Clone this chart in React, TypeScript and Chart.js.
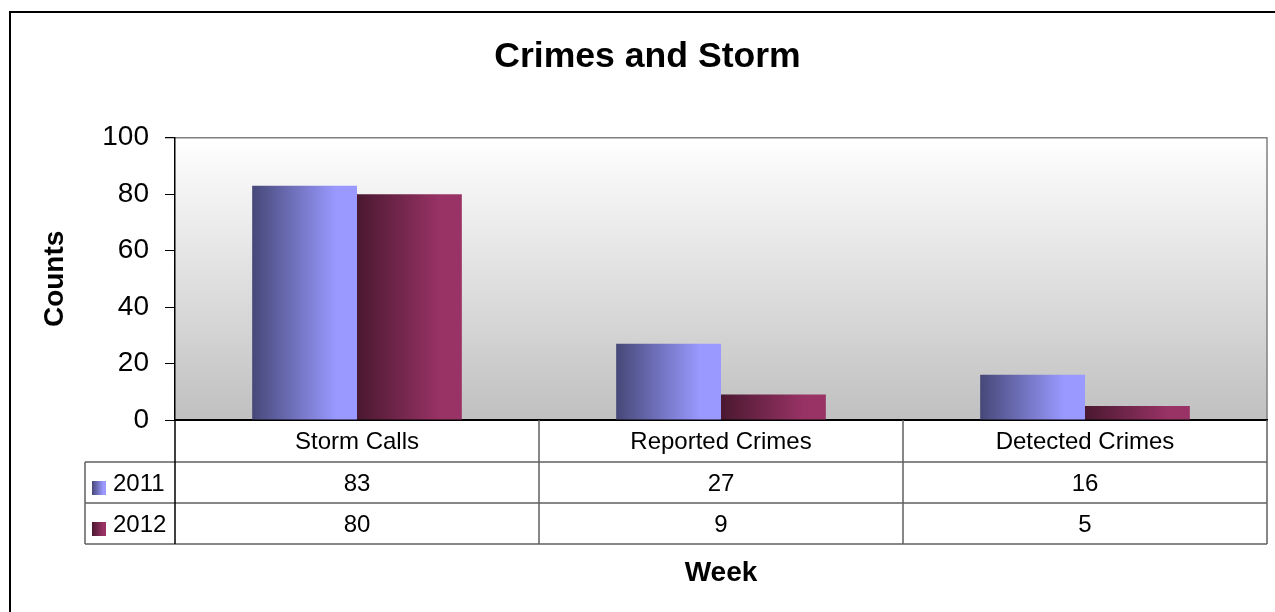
import React, { useEffect, useRef } from "react";
import { Chart, registerables } from "chart.js";

Chart.register(...registerables);

const categories = ["Storm Calls", "Reported Crimes", "Detected Crimes"];
const seriesNames = ["2011", "2012"];
const values2011 = [83, 27, 16];
const values2012 = [80, 9, 5];
const yTicks = [0, 20, 40, 60, 80, 100];

const FONT = "'Liberation Sans', Arial, sans-serif";
const CAT_PCT = 0.576;
const palettes: string[][] = [
  ["#464878", "#9999ff"],
  ["#4a1830", "#993366"],
];

function hGrad(ctx: CanvasRenderingContext2D, x0: number, x1: number, pal: string[]) {
  const g = ctx.createLinearGradient(x0, 0, x1, 0);
  g.addColorStop(0, pal[0]);
  g.addColorStop(0.8, pal[1]);
  g.addColorStop(1, pal[1]);
  return g;
}

function barColor(c: any) {
  const chart = c.chart;
  const xs = chart.scales.x;
  const pal = palettes[c.datasetIndex] || palettes[0];
  if (!xs || !chart.chartArea || c.dataIndex === undefined) return pal[1];
  const cat = xs.width / categories.length;
  const bw = (cat * CAT_PCT) / 2;
  const center = xs.getPixelForValue(c.dataIndex);
  const x0 = center - bw + c.datasetIndex * bw;
  return hGrad(chart.ctx, x0, x0 + bw, pal);
}

const framePlugin = {
  id: "frame",
  beforeDraw(chart: any) {
    const { ctx, chartArea: a } = chart;
    ctx.save();
    ctx.strokeStyle = "#000";
    ctx.lineWidth = 2;
    ctx.strokeRect(10, 12, 2000, 2000);
    const g = ctx.createLinearGradient(0, a.top, 0, a.bottom);
    g.addColorStop(0, "#ffffff");
    g.addColorStop(1, "#c0c0c0");
    ctx.fillStyle = g;
    ctx.fillRect(a.left, a.top, a.right - a.left, a.bottom - a.top);
    ctx.strokeStyle = "#808080";
    ctx.lineWidth = 1.5;
    ctx.beginPath();
    ctx.moveTo(a.left - 10, a.top);
    ctx.lineTo(a.right, a.top);
    ctx.lineTo(a.right, a.bottom);
    ctx.stroke();
    ctx.restore();
  },
  afterDraw(chart: any) {
    const { ctx, chartArea: a } = chart;
    const xs = chart.scales.x;
    const rows = [values2011, values2012];
    const r0 = a.bottom + 42;
    const rowH = 41;
    const tableBottom = r0 + rowH * rows.length;
    const legendLeft = 85;
    const cat = xs.width / categories.length;
    ctx.save();
    ctx.strokeStyle = "#606060";
    ctx.lineWidth = 1.5;
    ctx.beginPath();
    for (let r = 0; r <= rows.length; r++) {
      const y = r0 + r * rowH;
      ctx.moveTo(legendLeft, y);
      ctx.lineTo(a.right, y);
    }
    for (let i = 1; i < categories.length; i++) {
      const x = xs.left + i * cat;
      ctx.moveTo(x, a.bottom);
      ctx.lineTo(x, tableBottom);
    }
    ctx.moveTo(a.right, a.bottom);
    ctx.lineTo(a.right, tableBottom);
    ctx.moveTo(legendLeft, r0);
    ctx.lineTo(legendLeft, tableBottom);
    ctx.stroke();
    ctx.strokeStyle = "#000";
    ctx.lineWidth = 1.5;
    ctx.beginPath();
    ctx.moveTo(a.left, a.bottom);
    ctx.lineTo(a.left, tableBottom);
    ctx.stroke();

    ctx.fillStyle = "#000";
    ctx.font = `24px ${FONT}`;
    ctx.textBaseline = "middle";
    rows.forEach((vals, r) => {
      const cy = r0 + r * rowH + rowH / 2 + 2;
      ctx.textAlign = "center";
      vals.forEach((v, i) => {
        ctx.fillText(String(v), xs.getPixelForValue(i), cy);
      });
      const ky = r0 + r * rowH + 19;
      ctx.fillStyle = hGrad(ctx, 92, 106, palettes[r]);
      ctx.fillRect(92, ky, 14, 14);
      ctx.fillStyle = "#000";
      ctx.textAlign = "left";
      ctx.fillText(seriesNames[r], 113, cy);
    });
    ctx.restore();
  },
};

export default function App() {
  const ref = useRef<HTMLCanvasElement>(null);
  useEffect(() => {
    if (!ref.current) return;
    const chart = new Chart(ref.current, {
      type: "bar",
      data: {
        labels: categories,
        datasets: [
          { label: seriesNames[0], data: values2011, backgroundColor: barColor, borderWidth: 0 },
          { label: seriesNames[1], data: values2012, backgroundColor: barColor, borderWidth: 0 },
        ],
      },
      options: {
        responsive: true,
        maintainAspectRatio: false,
        animation: false,
        layout: { padding: { left: 28, right: 8, top: 0, bottom: 0 } },
        datasets: { bar: { categoryPercentage: CAT_PCT, barPercentage: 1 } },
        plugins: {
          legend: { display: false },
          tooltip: { enabled: false },
          title: {
            display: true,
            text: "Crimes and Storm",
            color: "#000",
            font: { family: FONT, size: 35.6, weight: "bold" },
            padding: { top: 36, bottom: 59 },
          },
        },
        scales: {
          x: {
            grid: { display: false, drawTicks: false },
            border: { display: true, color: "#000", width: 2 },
            ticks: { color: "#000", font: { family: FONT, size: 24 }, padding: 8, maxRotation: 0 },
            title: {
              display: true,
              text: "Week",
              color: "#000",
              font: { family: FONT, size: 28, weight: "bold" },
              padding: { top: 0, bottom: 22 },
            },
            afterFit: (s: any) => {
              s.height = 192;
            },
          },
          y: {
            min: 0,
            max: 100,
            afterBuildTicks: (s: any) => {
              s.ticks = yTicks.map((v) => ({ value: v }));
            },
            grid: { display: true, drawOnChartArea: false, drawTicks: true, tickLength: 10, color: "#000" },
            border: { display: true, color: "#000", width: 1.5 },
            ticks: { color: "#000", font: { family: FONT, size: 28 }, padding: 16 },
            title: {
              display: true,
              text: "Counts",
              color: "#000",
              font: { family: FONT, size: 28, weight: "bold" },
              padding: { top: 10, bottom: 0 },
            },
            afterFit: (s: any) => {
              s.width = 147;
            },
          },
        },
      },
      plugins: [framePlugin],
    });
    return () => chart.destroy();
  }, []);
  return (
    <div style={{ position: "fixed", left: 0, top: 0, width: 1275, height: 612, background: "#fff" }}>
      <canvas ref={ref} />
    </div>
  );
}
